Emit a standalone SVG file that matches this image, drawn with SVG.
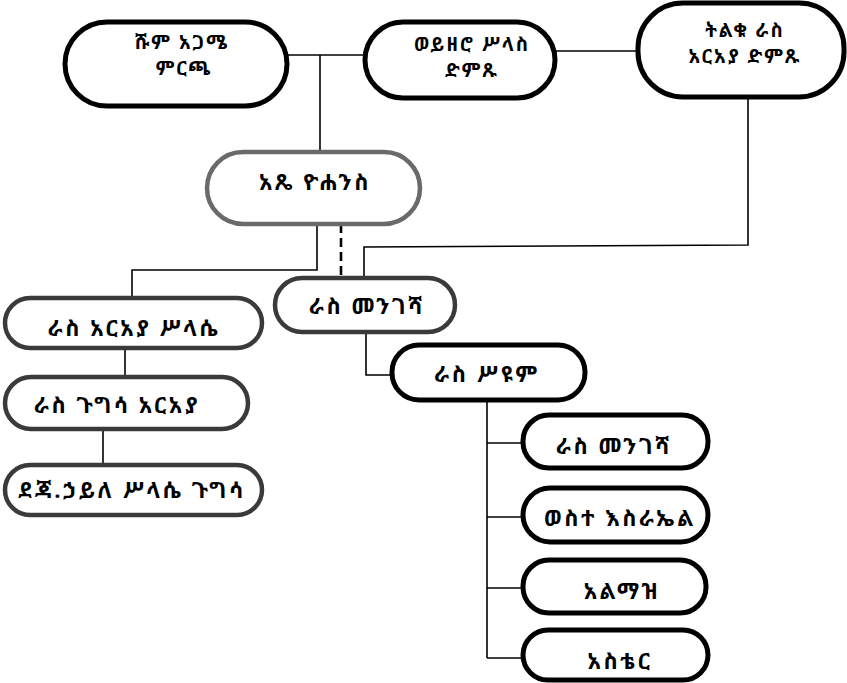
<svg xmlns="http://www.w3.org/2000/svg" width="847" height="683" viewBox="0 0 847 683">
<style>
.bg{fill:#fff}
.n1{fill:#fff;stroke:#000;stroke-width:5}
.n2{fill:#fff;stroke:#3a3a3a;stroke-width:4.5}
.n3{fill:#fff;stroke:#6a6a6a;stroke-width:4.5}
.c{fill:none;stroke:#000;stroke-width:1.6}
.d{fill:none;stroke:#000;stroke-width:2.6;stroke-dasharray:9 5}
text{font-family:"Noto Sans Ethiopic","Abyssinica SIL","DejaVu Sans","Noto Sans",sans-serif;font-weight:bold;font-size:22px;letter-spacing:2.5px;text-anchor:middle;fill:#000}
text.t2{font-size:19px;letter-spacing:2px}
</style>
<rect class="bg" width="847" height="683"/>
<g id="connectors">
<line class="c" x1="287" y1="55" x2="365" y2="55"/>
<line class="c" x1="555" y1="51" x2="638" y2="51"/>
<line class="c" x1="320" y1="55" x2="320" y2="152"/>
<polyline class="c" points="317,224 317,270 132,270 132,298"/>
<line class="d" x1="341" y1="224" x2="341" y2="278"/>
<polyline class="c" points="748,97 748,245 364,247 364,278"/>
<line class="c" x1="125" y1="348" x2="125" y2="377"/>
<line class="c" x1="103" y1="429" x2="103" y2="465"/>
<polyline class="c" points="366,332 366,375 392,375"/>
<line class="c" x1="487" y1="400" x2="487" y2="658"/>
<line class="c" x1="487" y1="443" x2="523" y2="443"/>
<line class="c" x1="487" y1="517" x2="523" y2="517"/>
<line class="c" x1="487" y1="588" x2="523" y2="588"/>
<line class="c" x1="487" y1="658" x2="523" y2="658"/>
</g>
<g id="shum-agame"><rect class="n1" x="65" y="22" width="222" height="84" rx="42"/><text class="t2" x="182" y="49">ሹም አጋሜ</text><text class="t2" x="184" y="75">ምርጫ</text></g>
<g id="woizero-silas"><rect class="n1" x="365" y="22" width="190" height="76" rx="38"/><text class="t2" x="472" y="51">ወይዘሮ ሥላስ</text><text class="t2" x="472" y="77">ድምጹ</text></g>
<g id="tilku-ras"><rect class="n1" x="638" y="3" width="206" height="94" rx="45"/><text class="t2" x="745" y="37">ትልቁ ራስ</text><text class="t2" x="745" y="63">አርአያ ድምጹ</text></g>
<g id="atse-yohannes"><rect class="n3" x="207" y="152" width="213" height="72" rx="36"/><text x="315" y="190">አጼ ዮሐንስ</text></g>
<g id="ras-araya-selassie"><rect class="n2" x="5" y="298" width="257" height="50" rx="25"/><text x="134" y="336">ራስ አርአያ ሥላሴ</text></g>
<g id="ras-gugsa-araya"><rect class="n2" x="5" y="377" width="243" height="52" rx="26"/><text x="117" y="413">ራስ ጉግሳ አርአያ</text></g>
<g id="dej-haile-selassie"><rect class="n2" x="5" y="465" width="257" height="50" rx="25"/><text x="132" y="498">ደጃ.ኃይለ ሥላሴ ጉግሳ</text></g>
<g id="ras-mengesha"><rect class="n2" x="275" y="278" width="180" height="54" rx="27"/><text x="367" y="314">ራስ መንገሻ</text></g>
<g id="ras-seyoum"><rect class="n1" x="392" y="345" width="193" height="55" rx="27"/><text x="487" y="382">ራስ ሥዩም</text></g>
<g id="ras-mengesha-2"><rect class="n1" x="523" y="415" width="185" height="53" rx="26"/><text x="614" y="454">ራስ መንገሻ</text></g>
<g id="weste-israel"><rect class="n1" x="523" y="488" width="185" height="54" rx="27"/><text x="620" y="526">ወስተ እስራኤል</text></g>
<g id="almaz"><rect class="n1" x="523" y="560" width="183" height="53" rx="26"/><text x="622" y="599">አልማዝ</text></g>
<g id="aster"><rect class="n1" x="523" y="630" width="185" height="50" rx="25"/><text x="620" y="669">አስቴር</text></g>
</svg>
